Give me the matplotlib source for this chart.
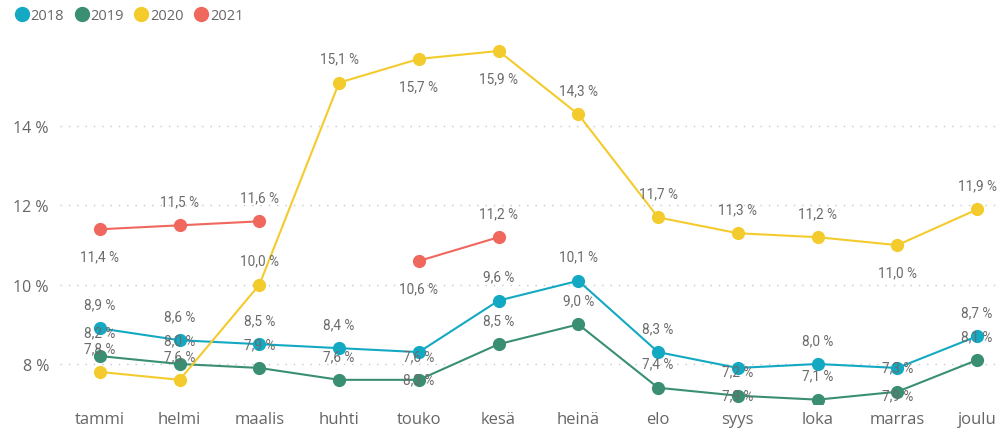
import matplotlib.pyplot as plt
from matplotlib.lines import Line2D
import numpy as np

nan = np.nan
months = ["tammi", "helmi", "maalis", "huhti", "touko", "kesä",
          "heinä", "elo", "syys", "loka", "marras", "joulu"]
years = ["2018", "2019", "2020", "2021"]
v2018 = [8.9, 8.6, 8.5, 8.4, 8.3, 9.6, 10.1, 8.3, 7.9, 8.0, 7.9, 8.7]
v2019 = [8.2, 8.0, 7.9, 7.6, 7.6, 8.5, 9.0, 7.4, 7.2, 7.1, 7.3, 8.1]
v2020 = [7.8, 7.6, 10.0, 15.1, 15.7, 15.9, 14.3, 11.7, 11.3, 11.2, 11.0, 11.9]
v2021 = [11.4, 11.5, 11.6, nan, 10.6, 11.2, nan, nan, nan, nan, nan, nan]
yticks = [8, 10, 12, 14]

colors = ["#13A9C2", "#3A8F73", "#F4CB2C", "#F0675D"]
# which labels sit under the point (Power BI placement)
below = {"2018": [4, 8, 10], "2019": [], "2020": [4, 5, 10], "2021": [0, 4]}

plt.rcParams['font.family'] = ['Open Sans', 'DejaVu Sans']

fig = plt.figure(figsize=(9.97, 4.31), dpi=100)
ax = fig.add_axes([0.0602, 0.0603, 0.9398, 0.8467])

x = np.arange(len(months))
series = [v2018, v2019, v2020, v2021]
for i, (yr, vals) in enumerate(zip(years, series)):
    ax.plot(x, vals, color=colors[i], lw=1.5, marker="o", markersize=9.5,
            markeredgewidth=0, zorder=3 + i)

for i, (yr, vals) in enumerate(zip(years, series)):
    for j, v in enumerate(vals):
        if np.isnan(v):
            continue
        off = -19.5 if j in below[yr] else 17.3
        ax.annotate(f"{v:.1f} %".replace(".", ","), (j, v), xytext=(0, off),
                    textcoords="offset points", ha="center", va="center",
                    fontsize=9.8, color="#6B6B6B", family=["Roboto", "DejaVu Sans"],
                    zorder=10)

ax.set_xlim(-0.5, 11.25)
ax.set_ylim(6.99, 16.2)
ax.set_xticks(x)
ax.set_xticklabels(months, fontsize=12, color="#666666")
ax.set_yticks(yticks)
ax.set_yticklabels([f"{t} %" for t in yticks], fontsize=11.5, color="#666666")
ax.tick_params(length=0, pad=5)
ax.tick_params(axis="y", pad=8)
for s in ax.spines.values():
    s.set_visible(False)
ax.grid(axis="y", color="#C8C8C8", linestyle=(0, (1, 5)), linewidth=1)
ax.set_axisbelow(True)

handles = [Line2D([], [], marker="o", color=c, linestyle="none", markersize=10)
           for c in colors]
fig.legend(handles, years, loc="upper left", bbox_to_anchor=(0.0, 1.01), ncol=4,
           frameon=False, fontsize=10.5, handletextpad=0.0, columnspacing=0.6,
           handlelength=1.2, labelcolor="#666666")

fig.savefig("out.png", dpi=100)
